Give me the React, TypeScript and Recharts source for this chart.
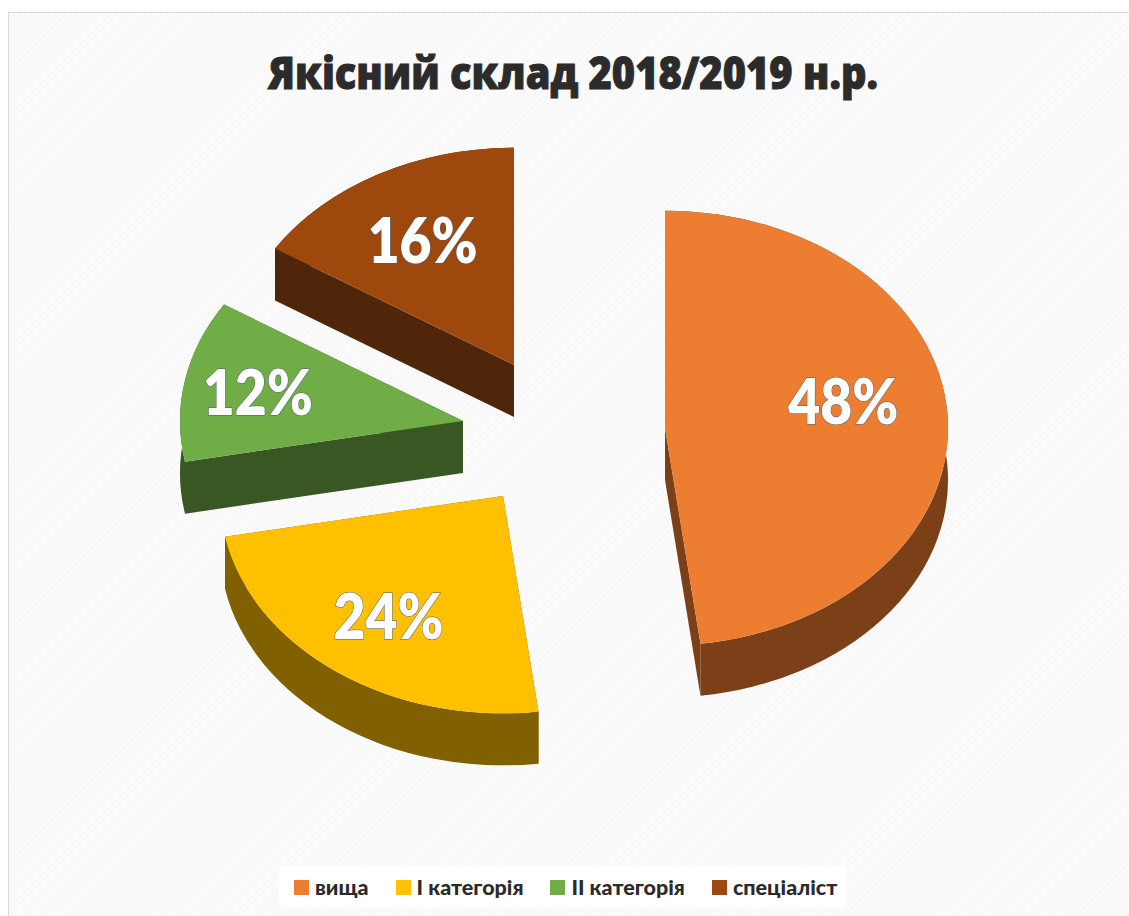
import { Legend, Pie, PieChart, Sector } from 'recharts'

const CATEGORIES = ['вища', 'I категорія', 'II категорія', 'спеціаліст']
const SHARES = [48, 24, 12, 16]
const TOP_COLORS = ['#ed7d31', '#ffc000', '#70ad47', '#9e480e']
const WALL_COLORS = ['#7b4018', '#806000', '#385723', '#50260a']

// exploded slice offsets from the pie centre, px
const EXPLODE = [
  [165, -2],
  [3, 66],
  [-37, -9],
  [14, -65],
]
const LABEL_NUDGE = [
  [-11, -17],
  [-3, 3],
  [-19, -1],
  [0, 3],
]

const TILT = 0.768
const DEPTH = 52
const RAD = Math.PI / 180

const data = CATEGORIES.map((name, i) => ({ name, value: SHARES[i], fill: TOP_COLORS[i] }))

function SliceShape(props: any) {
  const { cx, cy, outerRadius: r, startAngle, endAngle, fill, name } = props
  const i = CATEGORIES.indexOf(name)
  const x0 = cx + EXPLODE[i][0]
  const y0 = cy + EXPLODE[i][1]
  const px = (a: number) => x0 + r * Math.cos(a * RAD)
  const py = (a: number, d = 0) => y0 - r * TILT * Math.sin(a * RAD) + d
  const ry = r * TILT
  const band =
    `M${px(startAngle)},${py(startAngle)} A${r},${ry} 0 0 1 ${px(endAngle)},${py(endAngle)} ` +
    `L${px(endAngle)},${py(endAngle, DEPTH)} A${r},${ry} 0 0 0 ${px(startAngle)},${py(startAngle, DEPTH)} Z`
  const startFace = `M${x0},${y0} L${px(startAngle)},${py(startAngle)} L${px(startAngle)},${py(startAngle, DEPTH)} L${x0},${y0 + DEPTH} Z`
  const endFace = `M${x0},${y0} L${px(endAngle)},${py(endAngle)} L${px(endAngle)},${py(endAngle, DEPTH)} L${x0},${y0 + DEPTH} Z`
  return (
    <g>
      <path d={band} fill={WALL_COLORS[i]} />
      <path d={startFace} fill={WALL_COLORS[i]} />
      <path d={endFace} fill={WALL_COLORS[i]} />
      <g transform={`translate(${x0} ${y0}) scale(1 ${TILT})`}>
        <Sector cx={0} cy={0} innerRadius={0} outerRadius={r} startAngle={startAngle} endAngle={endAngle} fill={fill} stroke="none" />
      </g>
    </g>
  )
}

function SliceLabel(props: any) {
  const { cx, cy, midAngle, outerRadius: r, name, value } = props
  const i = CATEGORIES.indexOf(name)
  const x = cx + EXPLODE[i][0] + 0.67 * r * Math.cos(midAngle * RAD) + LABEL_NUDGE[i][0]
  const y = cy + EXPLODE[i][1] - 0.67 * r * TILT * Math.sin(midAngle * RAD) + LABEL_NUDGE[i][1]
  return (
    <text
      x={x}
      y={y}
      dy="0.36em"
      textAnchor="middle"
      fontFamily="Lato"
      fontWeight={800}
      fontSize={62}
      fill="#fff"
      stroke="#4a5a70"
      strokeWidth={1}
      paintOrder="stroke"
      textLength={110}
      lengthAdjust="spacingAndGlyphs"
    >
      {`${value}%`}
    </text>
  )
}

function LegendBox({ payload }: any) {
  const items = [...(payload ?? [])].sort((a: any, b: any) => CATEGORIES.indexOf(a.value) - CATEGORIES.indexOf(b.value))
  return (
    <div
      style={{
        display: 'flex',
        alignItems: 'center',
        height: 42,
        width: 567,
        boxSizing: 'border-box',
        paddingLeft: 15,
        background: '#fff',
        fontFamily: 'Lato',
        fontWeight: 900,
        fontSize: 21.5,
        color: '#2b2b2b',
        whiteSpace: 'nowrap',
      }}
    >
      {items.map((entry: any) => (
        <span key={entry.value} style={{ display: 'flex', flexShrink: 0, alignItems: 'center', marginRight: 27 }}>
          <span style={{ width: 15, height: 15, background: entry.color, marginRight: 6 }} />
          {entry.value}
        </span>
      ))}
    </div>
  )
}

export default function App() {
  return (
    <div style={{ position: 'absolute', left: 0, top: 0, width: 1129, height: 916, background: '#fff', overflow: 'hidden' }}>
      <div
        style={{
          position: 'absolute',
          left: 8,
          top: 12,
          width: 1121,
          height: 904,
          boxSizing: 'border-box',
          background: 'repeating-linear-gradient(135deg, #f8f8f8 0 2px, #fbfbfb 2px 4px)',
          borderLeft: '1px solid #d9d9d9',
          borderTop: '1px solid #d9d9d9',
        }}
      />
      <div style={{ position: 'absolute', left: 0, top: 0 }}>
        <PieChart width={1129} height={916} margin={{ top: 0, right: 0, bottom: 0, left: 0 }}>
          <text
            x={573}
            y={89}
            textAnchor="middle"
            fontFamily="Open Sans"
            fontWeight={800}
            fontSize={45}
            fill="#2b2b2b"
            stroke="#2b2b2b"
            strokeWidth={1}
            textLength={610}
            lengthAdjust="spacingAndGlyphs"
          >
            Якісний склад 2018/2019 н.р.
          </text>
          <Pie
            data={data}
            dataKey="value"
            nameKey="name"
            cx={500}
            cy={430}
            innerRadius={0}
            outerRadius={283}
            startAngle={90}
            endAngle={-270}
            stroke="none"
            isAnimationActive={false}
            shape={SliceShape}
            label={SliceLabel}
            labelLine={false}
          />
          <Legend
            content={LegendBox}
            layout="horizontal"
            verticalAlign="bottom"
            align="left"
            wrapperStyle={{ left: 279, top: 866, bottom: 'auto', width: 567 }}
          />
        </PieChart>
      </div>
    </div>
  )
}
